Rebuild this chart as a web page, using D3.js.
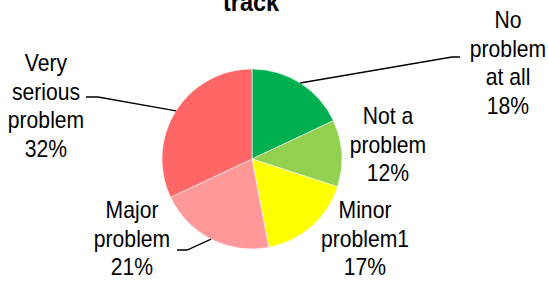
<!DOCTYPE html>
<html lang="en">
<head>
<meta charset="UTF-8">
<title>Pie</title>
<script src="https://d3js.org/d3.v7.min.js"></script>
<style>
  body { margin: 0; background: #fff; }
  svg { display: block; }
  text { font-family: "Liberation Sans", Arial, sans-serif; fill: #000; }
</style>
</head>
<body>
<svg width="548" height="283"></svg>
<script>
// data
var categories = ["No problem at all", "Not a problem", "Minor problem1", "Major problem", "Very serious problem"];
var labelLines = [["No", "problem", "at all"], ["Not a", "problem"], ["Minor", "problem1"], ["Major", "problem"], ["Very", "serious", "problem"]];
var values = [18, 12, 17, 21, 32];
var colors = ["#00B050", "#92D050", "#FFFF00", "#FF9999", "#FF6666"];

// label layout: centre x, first baseline, leader elbow (null = no leader)
var labelPos = [
    { x: 508, y: 28, elbow: [452, 57], end: 460 },
    { x: 388, y: 124, elbow: null },
    { x: 365, y: 218, elbow: null },
    { x: 132, y: 218, elbow: [187, 250], end: 177 },
    { x: 46, y: 71, elbow: [98, 97], end: 86 }
];

var svg = d3.select("svg");
var cx = 252, cy = 159, r = 90;
var lineH = 28.6;

var pie = d3.pie().sort(null).value(d => d)(values);
var arc = d3.arc().innerRadius(0).outerRadius(r);

var g = svg.append("g").attr("transform", "translate(" + cx + "," + cy + ")");
g.selectAll("path")
    .data(pie)
    .join("path")
    .attr("d", arc)
    .attr("fill", (d, i) => colors[i])
    .attr("stroke", "#fff")
    .attr("stroke-width", 0.6);

// title (cut off at the top)
svg.append("text")
    .attr("x", 251)
    .attr("y", 11)
    .attr("text-anchor", "middle")
    .style("font-weight", "bold")
    .style("font-size", "25px")
    .attr("transform", "translate(251,0) scale(0.94,1) translate(-251,0)")
    .text("track");

// leader lines
pie.forEach(function (d, i) {
    var p = labelPos[i];
    if (!p.elbow) return;
    var a = (d.startAngle + d.endAngle) / 2;
    var x0 = cx + r * Math.sin(a), y0 = cy - r * Math.cos(a);
    svg.append("polyline")
        .attr("points", [[x0, y0], p.elbow, [p.end, p.elbow[1]]].map(q => q.join(",")).join(" "))
        .attr("fill", "none")
        .attr("stroke", "#000")
        .attr("stroke-width", 1.3);
});

// labels
pie.forEach(function (d, i) {
    var p = labelPos[i];
    var lines = labelLines[i].concat([values[i] + "%"]);
    var t = svg.append("text")
        .attr("text-anchor", "middle")
        .style("font-size", "23px")
        .attr("transform", "translate(" + p.x + "," + p.y + ") scale(0.92,1)");
    lines.forEach(function (s, k) {
        t.append("tspan").attr("x", 0).attr("y", k * lineH).text(s);
    });
});
</script>
</body>
</html>
